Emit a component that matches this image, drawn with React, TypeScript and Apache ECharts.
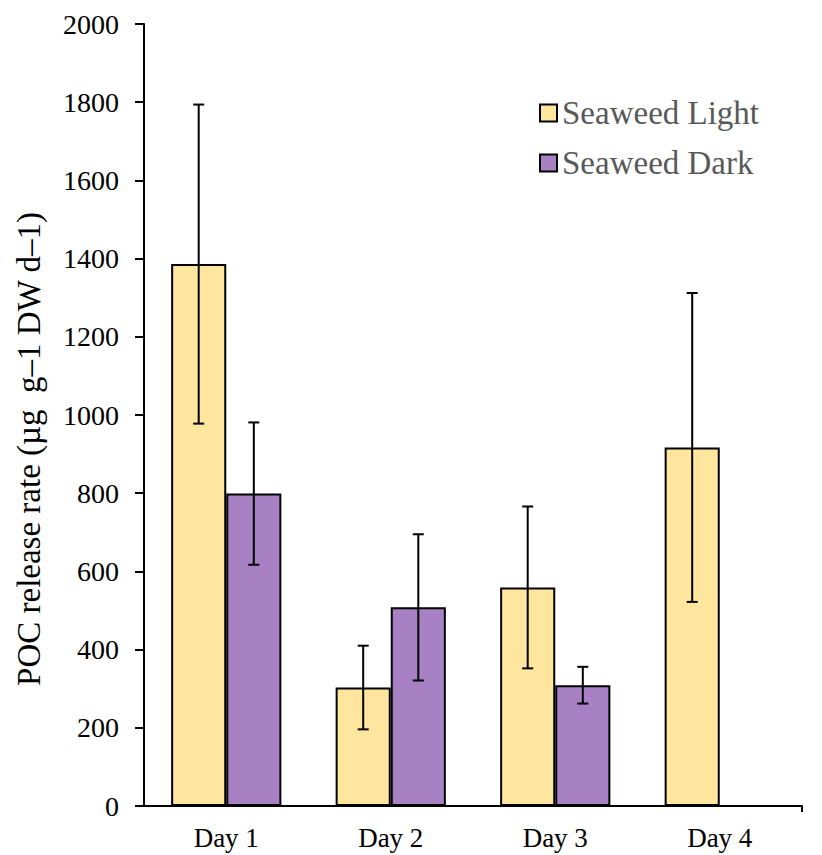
import React, { useEffect, useRef } from "react";
import * as echarts from "echarts";

// Sampling days
const days = ["Day 1", "Day 2", "Day 3", "Day 4"];

// POC release rate means and their error (±) per day
const lightMean = [1386, 303, 559, 917];
const lightErr = [408, 107, 207, 395];
const darkMean: (number | null)[] = [799, 508, 309, null];
const darkErr: (number | null)[] = [182, 187, 47, null];

const yTicks = { min: 0, max: 2000, interval: 200 };

const FONT = '"Liberation Serif", "Times New Roman", Times, serif';
const LIGHT = "#FFE69F";
const DARK = "#A781C3";
const CAT_GAP = 0.33;

export default function App() {
  const ref = useRef<HTMLDivElement>(null);

  useEffect(() => {
    document.body.style.margin = "0";
    if (!ref.current) return;
    const chart = echarts.init(ref.current, null, { renderer: "svg" });

    // error-bar rows: [category index, mean, err, side (-1 light, +1 dark)]
    const errRows: number[][] = [];
    days.forEach((_, i) => {
      errRows.push([i, lightMean[i], lightErr[i], -1]);
      if (darkMean[i] != null && darkErr[i] != null) {
        errRows.push([i, darkMean[i] as number, darkErr[i] as number, 1]);
      }
    });

    chart.setOption({
      animation: false,
      grid: { left: 144, right: 20, top: 24, bottom: 49 },
      legend: {
        orient: "vertical",
        left: 534,
        top: 91,
        itemWidth: 17,
        itemHeight: 17,
        itemGap: 16,
        icon: "rect",
        data: ["Seaweed Light", "Seaweed Dark"],
        itemStyle: { borderColor: "#000", borderWidth: 2 },
        textStyle: {
          fontFamily: FONT,
          fontSize: 33,
          color: "#595959",
          lineHeight: 34,
        },
      },
      xAxis: {
        type: "category",
        data: days,
        axisLine: { lineStyle: { color: "#000", width: 2 } },
        axisTick: {
          alignWithLabel: true,
          length: 6,
          lineStyle: { color: "#000", width: 2 },
        },
        axisLabel: {
          fontFamily: FONT,
          fontSize: 27,
          color: "#000",
          margin: 18,
        },
      },
      yAxis: {
        type: "value",
        min: yTicks.min,
        max: yTicks.max,
        interval: yTicks.interval,
        splitLine: { show: false },
        axisLine: { show: true, lineStyle: { color: "#000", width: 2 } },
        axisTick: { show: true, length: 9, lineStyle: { color: "#000", width: 2 } },
        axisLabel: {
          fontFamily: FONT,
          fontSize: 28,
          color: "#000",
          margin: 25,
          formatter: (v: number) => String(v),
        },
      },
      graphic: [
        {
          type: "text",
          x: 29,
          y: 449,
          rotation: Math.PI / 2,
          style: {
            text: "POC release rate (µg  g–1 DW d–1)",
            font: `33px ${FONT}`,
            fill: "#000",
            textAlign: "center",
            textVerticalAlign: "middle",
          },
        },
        {
          // closing tick at the right end of the category axis
          type: "line",
          x: 802,
          y: 806,
          z: 100,
          shape: { x1: 0, y1: 0, x2: 0, y2: 6 },
          style: { stroke: "#000", lineWidth: 2 },
        },
      ],
      series: [
        {
          name: "Seaweed Light",
          type: "bar",
          data: lightMean,
          barGap: "0%",
          barCategoryGap: `${CAT_GAP * 100}%`,
          itemStyle: { color: LIGHT, borderColor: "#000", borderWidth: 2 },
        },
        {
          name: "Seaweed Dark",
          type: "bar",
          data: darkMean,
          barGap: "0%",
          barCategoryGap: `${CAT_GAP * 100}%`,
          itemStyle: { color: DARK, borderColor: "#000", borderWidth: 2 },
        },
        {
          type: "custom",
          z: 10,
          data: errRows,
          renderItem: (params: any, api: any) => {
            const idx = api.value(0);
            const mean = api.value(1);
            const err = api.value(2);
            const side = api.value(3);
            const band = api.size([1, 0])[0];
            const offset = (side * band * (1 - CAT_GAP)) / 4;
            const hi = api.coord([idx, mean + err]);
            const lo = api.coord([idx, mean - err]);
            const x = hi[0] + offset;
            const cap = 5.5;
            const style = { stroke: "#000", lineWidth: 2 };
            return {
              type: "group",
              children: [
                { type: "line", shape: { x1: x, y1: hi[1], x2: x, y2: lo[1] }, style },
                { type: "line", shape: { x1: x - cap, y1: hi[1], x2: x + cap, y2: hi[1] }, style },
                { type: "line", shape: { x1: x - cap, y1: lo[1], x2: x + cap, y2: lo[1] }, style },
              ],
            };
          },
        },
      ],
    });

    return () => chart.dispose();
  }, []);

  return <div ref={ref} style={{ width: 822, height: 855 }} />;
}
